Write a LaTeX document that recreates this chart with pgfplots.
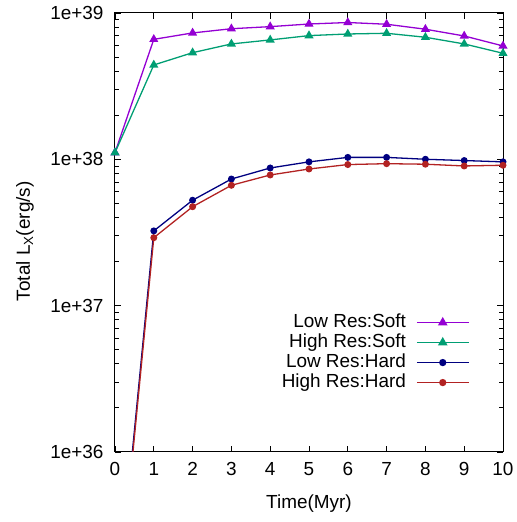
\documentclass[border=0pt]{standalone}
\usepackage{fontspec}
\setmainfont{Liberation Sans}
\usepackage{pgfplots}
\pgfplotsset{compat=1.18}
\definecolor{cpurple}{HTML}{9400D3}
\definecolor{cgreen}{HTML}{009E73}
\definecolor{cblue}{HTML}{000080}
\definecolor{cred}{HTML}{B22222}
\begin{document}
\begin{tikzpicture}
\useasboundingbox (-115bp,-70bp) rectangle (402bp,452bp);
\begin{axis}[
  at={(0,0)}, anchor=south west,
  scale only axis, width=388bp, height=439bp,
  ymode=log, xmin=0, xmax=10, ymin=1e36, ymax=1e39,
  xtick={0,1,...,10},
  ytick={1e36,1e37,1e38,1e39},
  yticklabels={1e+36,1e+37,1e+38,1e+39},
  minor ytick={2e36,3e36,4e36,5e36,6e36,7e36,8e36,9e36,2e37,3e37,4e37,5e37,6e37,7e37,8e37,9e37,2e38,3e38,4e38,5e38,6e38,7e38,8e38,9e38},
  tick align=inside,
  major tick length=6bp, minor tick length=4bp,
  every tick/.style={black, line width=0.8pt},
  /pgf/number format/assume math mode=true,
  tick label style={font=\fontsize{19}{22}\selectfont},
  yticklabel style={xshift=-8bp},
  xticklabel style={yshift=-7bp},
  label style={font=\fontsize{19}{22}\selectfont},
  xlabel={Time(Myr)},
  ylabel={Total L\textsubscript{X}(erg/s)},
  xlabel style={at={(0.5,-0.117)}, anchor=center},
  ylabel style={at={(-0.232,0.48)}, anchor=center},
  axis line style={line width=1pt},
  legend style={at={(0.922,0.319)}, anchor=north east, draw=none, fill=none,
    font=\fontsize{19}{22}\selectfont, row sep=3bp, column sep=10bp,
    nodes={inner sep=0bp, text height=13bp, text depth=4bp}},
  legend cell align=right,
  legend plot pos=right,
  legend image post style={line width=1.6pt},
  legend image code/.code={\draw[mark repeat=2,mark phase=2,#1] plot coordinates {(0bp,0bp) (26bp,0bp) (52bp,0bp)};},
]
\addplot[cpurple, line width=1.3pt, mark=triangle*, mark size=4bp] coordinates {
(0,1.11e38) (1,6.6e38) (2,7.3e38) (3,7.8e38) (4,8.06e38) (5,8.4e38) (6,8.6e38) (7,8.37e38) (8,7.74e38) (9,6.96e38) (10,5.95e38)};
\addlegendentry{Low Res:Soft}
\addplot[cgreen, line width=1.3pt, mark=triangle*, mark size=4bp] coordinates {
(0,1.11e38) (1,4.41e38) (2,5.35e38) (3,6.14e38) (4,6.54e38) (5,7.0e38) (6,7.18e38) (7,7.26e38) (8,6.82e38) (9,6.14e38) (10,5.3e38)};
\addlegendentry{High Res:Soft}
\addplot[cblue, line width=1.3pt, mark=*, mark size=2.8bp] coordinates {
(0,6e34) (1,3.24e37) (2,5.25e37) (3,7.33e37) (4,8.72e37) (5,9.6e37) (6,1.03e38) (7,1.03e38) (8,1.0e38) (9,0.98e38) (10,0.96e38)};
\addlegendentry{Low Res:Hard}
\addplot[cred, line width=1.3pt, mark=*, mark size=2.8bp] coordinates {
(0,5.5e34) (1,2.91e37) (2,4.74e37) (3,6.64e37) (4,7.81e37) (5,8.58e37) (6,9.2e37) (7,9.33e37) (8,9.25e37) (9,0.9e38) (10,0.91e38)};
\addlegendentry{High Res:Hard}
\end{axis}
\end{tikzpicture}
\end{document}
